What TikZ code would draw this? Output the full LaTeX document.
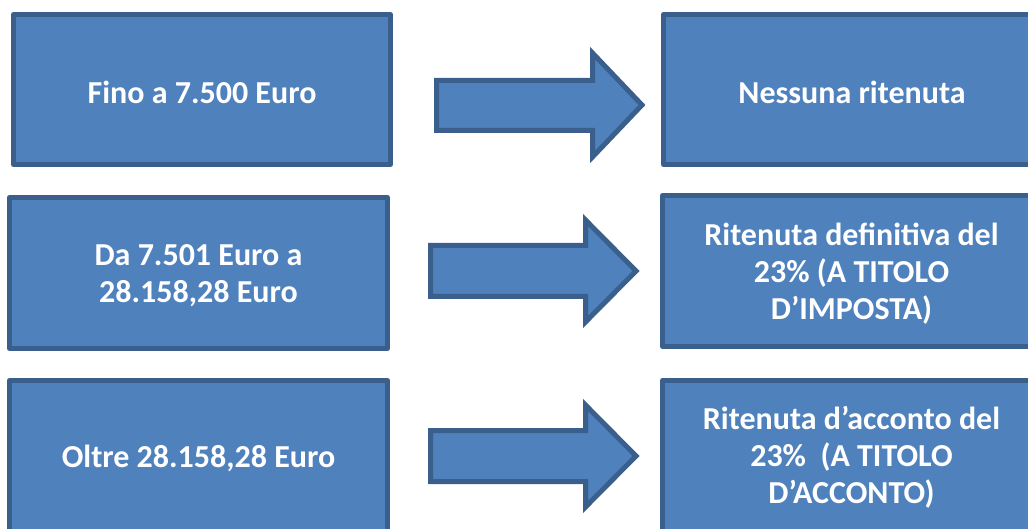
\documentclass[tikz,border=0pt]{standalone}
\usepackage{fontspec}
\setmainfont{Carlito}
\begin{document}
\begin{tikzpicture}[x=1pt,y=-1pt,
  panel/.style={fill=blueA,draw=blueB,line width=5pt,line join=round,
    rectangle,inner sep=0pt},
  caption/.style={text=white,align=center,yshift=-3pt,
    font=\fontsize{32}{37}\selectfont\bfseries},
  blockarrow/.style={fill=blueA,draw=blueB,line width=5pt,line join=miter}]
\definecolor{blueA}{HTML}{4F81BD}
\definecolor{blueB}{HTML}{3A5F8C}
\useasboundingbox (0,0) rectangle (1028,529);
\clip (0,0) rectangle (1028,529);
% left column
\node[panel,minimum width=377pt,minimum height=150pt] (l1) at (202,89.5) {};
\node[panel,minimum width=378pt,minimum height=151pt] (l2) at (198.5,273) {};
\node[panel,minimum width=378pt,minimum height=159.5pt] (l3) at (198.5,460.25) {};
\node[caption] (t1) at (l1.center) {Fino a 7.500 Euro};
\node[caption] (t2) at (l2.center) {Da 7.501 Euro a\\28.158,28 Euro};
\node[caption] (t3) at (198.5,455) {Oltre 28.158,28 Euro};
% right column
\node[panel,minimum width=377pt,minimum height=150pt] (r1) at (852,89.5) {};
\node[panel,minimum width=378pt,minimum height=151pt] (r2) at (851.5,271) {};
\node[panel,minimum width=378pt,minimum height=159.5pt] (r3) at (851.5,460.25) {};
\node[caption] (u1) at (r1.center) {Nessuna ritenuta};
\node[caption] (u2) at (r2.center) {Ritenuta definitiva del\\23\% (A TITOLO\\D’IMPOSTA)};
\node[caption] (u3) at (851.5,454) {Ritenuta d’acconto del\\23\%~ (A TITOLO\\D’ACCONTO)};
% block arrows between the columns
\draw[blockarrow] (436.5,80.5) -- (592.5,80.5) -- (592.5,53) -- (642,105) -- (592.5,157) -- (592.5,130.5) -- (436.5,130.5) -- cycle;
\draw[blockarrow] (430.5,245.5) -- (585.5,245.5) -- (585.5,220) -- (636,271) -- (585.5,322) -- (585.5,296.5) -- (430.5,296.5) -- cycle;
\draw[blockarrow] (430.5,430.5) -- (585.5,430.5) -- (585.5,405) -- (636,456) -- (585.5,507) -- (585.5,481.5) -- (430.5,481.5) -- cycle;
\end{tikzpicture}
\end{document}
